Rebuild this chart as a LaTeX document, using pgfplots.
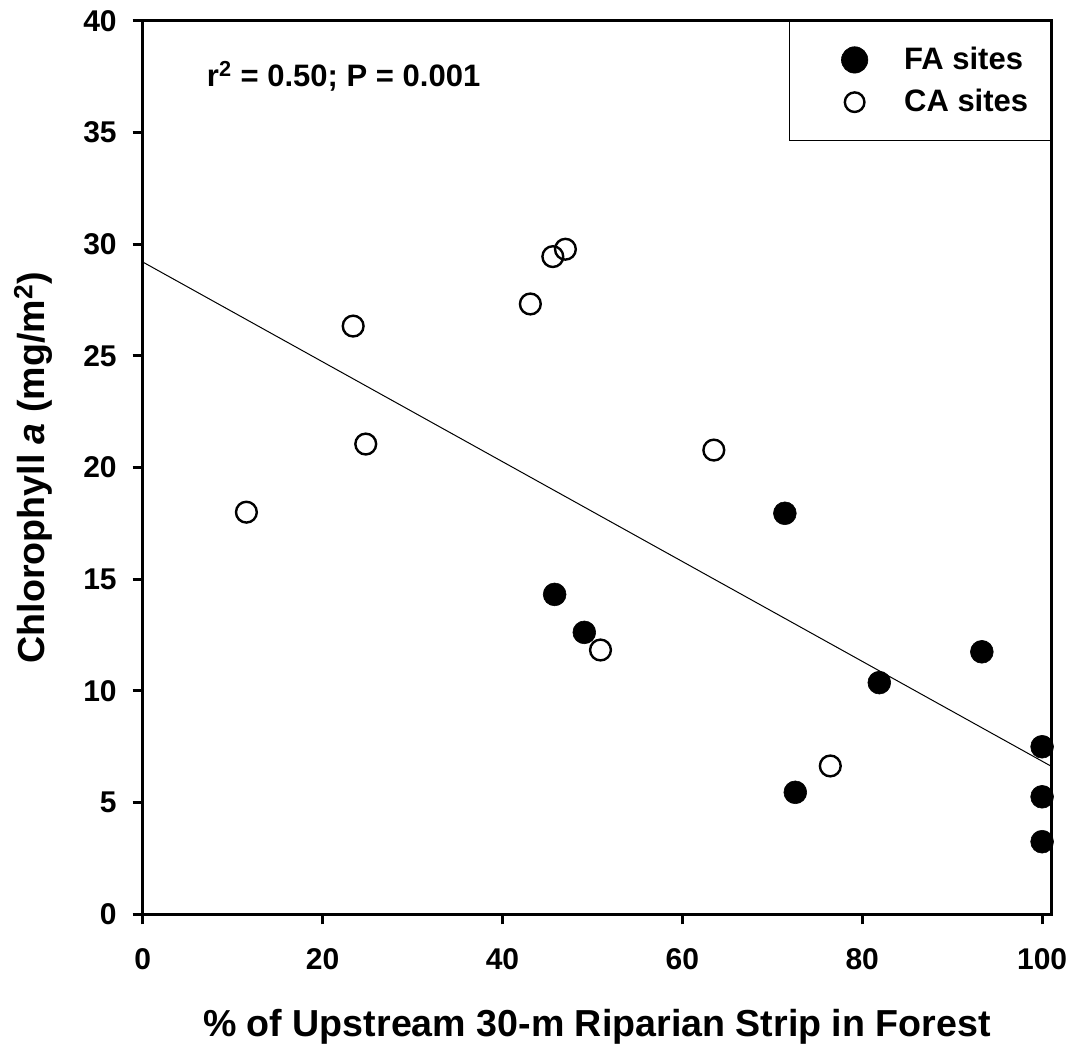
\documentclass[border=0pt]{standalone}
\usepackage{fontspec}
\setmainfont{Liberation Sans}
\usepackage{pgfplots}
\pgfplotsset{compat=1.18}
\begin{document}
\begin{tikzpicture}
\begin{axis}[
  name=ax,
  scale only axis,
  width=454.2pt, height=446.8pt,
  xmin=0, xmax=101, ymin=0, ymax=40,
  xtick={0,20,40,60,80,100},
  ytick={0,5,10,15,20,25,30,35,40},
  tick pos=left,
  tick align=outside,
  major tick length=5pt,
  axis line style={line width=1.5pt},
  every tick/.style={line width=1.5pt, black},
  /pgf/number format/assume math mode=true,
  tick label style={font=\fontsize{15}{18}\selectfont\bfseries},
  xticklabel style={yshift=-8.5pt},
  yticklabel style={xshift=-4.5pt},
  xlabel={\% of Upstream 30-m Riparian Strip in Forest},
  ylabel={Chlorophyll \textit{a} (mg/m\textsuperscript{2})},
  label style={font=\fontsize{18.8}{22}\selectfont\bfseries},
  xlabel style={at={(axis description cs:0.5,0)}, anchor=base, yshift=-61pt},
  ylabel style={at={(axis description cs:0,0.5)}, anchor=base, yshift=48.9pt},
  legend style={at={(1,1)}, anchor=north east, draw=black, line width=0.5pt,
    font=\fontsize{15.5}{18}\selectfont\bfseries, inner xsep=9.2pt, inner ysep=11pt,
    row sep=4.4pt, column sep=14pt},
  legend cell align=left,
  legend image code/.code={%
    \path (-23.3pt,0pt) (8.5pt,0pt);
    \draw[mark repeat=2, mark phase=2, #1] plot coordinates {(-8.5pt,0pt) (0pt,0pt) (8.5pt,0pt)};},
]
\addplot[only marks, mark=*, mark size=5.7pt, black, mark options={fill=black, line width=0.3pt},
  legend image post style={mark size=6.6pt}]
  coordinates {
  (45.8,14.32) (49.1,12.62) (71.4,17.95) (72.56,5.46) (81.9,10.37)
  (93.3,11.75) (100,7.5) (100,5.26) (100,3.25)
  };
\addlegendentry{FA sites}
\addplot[only marks, mark=o, mark size=5.2pt, black, mark options={fill=white, line width=1.2pt},
  legend image post style={mark size=4.9pt}]
  coordinates {
  (11.53,18.0) (23.4,26.33) (24.8,21.05) (43.1,27.32) (45.6,29.44)
  (47.0,29.77) (50.9,11.83) (63.5,20.78) (76.45,6.64)
  };
\addlegendentry{CA sites}
\addplot[no marks, black, line width=0.5pt, forget plot] coordinates {(0,29.2) (101,6.63)};
\node[anchor=base west, font=\fontsize{15.5}{18}\selectfont\bfseries, inner sep=0pt]
  at (axis cs:7.1,37.05) {r\textsuperscript{2} = 0.50; P = 0.001};
\coordinate (o) at (rel axis cs:0,0);
\end{axis}
\pgfresetboundingbox
\path (o) ++(-71.35pt,-67.35pt) rectangle ++(538pt,524.5pt);
\end{tikzpicture}
\end{document}
